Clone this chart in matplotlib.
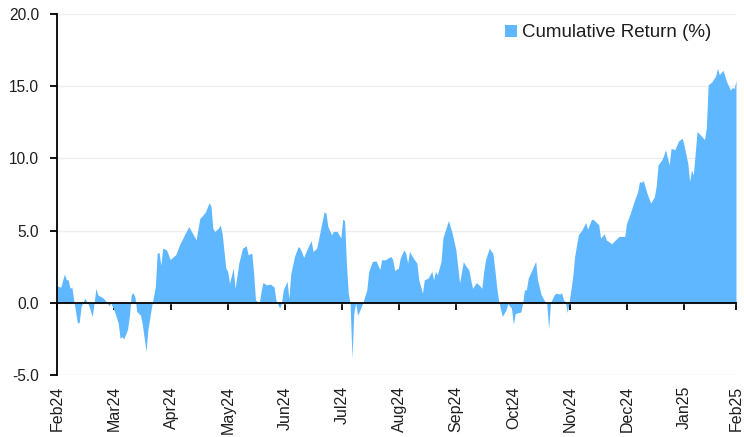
import matplotlib
matplotlib.use("Agg")
import matplotlib.pyplot as plt
from matplotlib.patches import Patch

# x readings, in calendar days after 2024-02-01
day_offsets = [
    0, 2, 4, 5, 6, 7, 8, 9, 11, 12, 13, 15, 17, 19, 21, 22, 25, 27, 28, 29,
    31, 33, 34, 35, 36, 38, 39, 40, 41, 42, 43, 45, 46, 48, 49, 51, 53, 54, 55, 56,
    57, 59, 61, 64, 66, 69, 71, 73, 75, 77, 78, 80, 82, 83, 84, 85, 87, 88, 89, 91,
    92, 93, 95, 96, 98, 100, 102, 103, 105, 106, 107, 108, 109, 110, 111, 113, 115, 117, 118, 120,
    121, 122, 124, 125, 126, 128, 130, 131, 133, 135, 137, 138, 140, 142, 144, 145, 146, 148, 149, 151,
    153, 154, 155, 156, 157, 158, 159, 160, 161, 162, 163, 165, 167, 168, 170, 172, 174, 175, 177, 179,
    180, 181, 182, 184, 185, 187, 188, 189, 190, 192, 194, 195, 197, 198, 200, 202, 203, 204, 205, 207,
    208, 211, 213, 215, 216, 217, 219, 220, 222, 223, 224, 226, 228, 229, 230, 231, 233, 235, 236, 237,
    238, 240, 242, 243, 245, 246, 247, 250, 251, 252, 253, 254, 258, 259, 261, 263, 264, 265, 266, 268,
    269, 271, 272, 273, 274, 275, 276, 278, 279, 281, 283, 285, 286, 288, 289, 292, 293, 295, 296, 299,
    301, 303, 306, 307, 309, 311, 313, 314, 315, 316, 318, 320, 322, 323, 324, 326, 327, 328, 330, 331,
    333, 335, 337, 338, 340, 341, 342, 343, 345, 347, 349, 350, 351, 353, 355, 356, 357, 359, 361, 363,
    364, 365, 366,
]
cumulative_return = [
    1.18, 1.08, 2.0, 1.6, 1.6, 1.0, 1.1, 0.2, -1.4, -1.35, -0.25, 0.32, -0.14, -0.95, 1.0, 0.55, 0.32, 0.02, -0.2, 0.0,
    -0.6, -1.4, -2.45, -2.35, -2.5, -1.85, -0.95, 0.55, 0.7, 0.4, -0.6, -0.85, -1.5, -3.37, -1.85, -0.25, 1.1, 3.44, 3.48, 2.6,
    3.78, 3.67, 3.0, 3.33, 4.0, 4.78, 5.28, 4.82, 4.36, 5.86, 5.97, 6.3, 6.94, 6.67, 5.17, 4.94, 5.17, 5.4, 4.82, 2.4,
    2.17, 1.36, 2.4, 1.0, 2.75, 3.78, 3.95, 3.33, 3.44, 2.05, 0.2, 0.1, 0.0, 0.78, 1.4, 1.24, 1.3, 1.1, 0.2, -0.37,
    0.0, 0.9, 1.5, 0.3, 2.0, 3.2, 3.9, 3.78, 3.15, 3.78, 4.31, 3.56, 3.78, 5.05, 6.3, 6.2, 5.28, 4.71, 4.94, 4.94,
    4.48, 5.79, 5.7, 2.75, 0.67, -0.07, -3.83, -0.7, 0.0, -0.85, -0.6, 0.07, 0.9, 2.17, 2.86, 2.9, 2.3, 2.98, 2.98, 3.15,
    3.2, 2.98, 2.24, 2.4, 3.1, 3.67, 3.44, 2.75, 3.56, 3.1, 2.75, 1.6, 0.67, 1.6, 1.7, 2.17, 1.6, 2.17, 1.94, 2.86,
    4.48, 5.7, 4.82, 3.67, 2.5, 1.36, 2.86, 2.63, 2.28, 1.6, 1.0, 1.4, 1.17, 1.0, 2.17, 2.98, 3.78, 3.4, 2.3, 1.1,
    0.16, -0.95, -0.5, -0.07, -0.37, -1.5, -0.74, -0.64, 0.0, 0.9, 0.9, 1.7, 2.86, 1.6, 0.55, 0.09, -0.06, -1.82, 0.0, 0.55,
    0.67, 0.6, 0.7, 0.2, 0.09, -0.67, 0.0, 1.82, 3.2, 4.7, 5.05, 5.56, 5.1, 5.75, 5.79, 5.4, 4.48, 4.78, 4.36, 4.09,
    4.36, 4.6, 4.59, 5.5, 6.2, 7.0, 7.7, 8.4, 8.33, 8.47, 7.6, 6.9, 7.35, 8.1, 9.55, 9.9, 10.2, 10.6, 9.55, 10.7,
    10.6, 11.2, 11.4, 10.9, 9.67, 8.4, 9.2, 8.85, 11.86, 11.6, 11.3, 12.1, 15.09, 15.3, 15.7, 16.24, 15.8, 16.1, 15.3, 14.74,
    14.9, 14.85, 15.4,
]
# The axis is indexed by trading day (251 sessions), ticked every 21 sessions
n_calendar_days = 366
last_trading_index = 250
tick_step = 21
month_labels = ["Feb24", "Mar24", "Apr24", "May24", "Jun24", "Jul24", "Aug24",
                "Sep24", "Oct24", "Nov24", "Dec24", "Jan25", "Feb25"]
yticks = [-5, 0, 5, 10, 15, 20]
series_name = "Cumulative Return (%)"

trading_index = [d * last_trading_index / n_calendar_days for d in day_offsets]
tick_positions = list(range(0, last_trading_index, tick_step)) + [last_trading_index]

fill_color = "#5FB7FF"
text_color = "#1e1e1e"
font = ["Liberation Sans", "DejaVu Sans"]
plt.rcParams["font.family"] = font

fig = plt.figure(figsize=(7.44, 4.37), dpi=100)
ax = fig.add_axes([57 / 744, 62 / 437, 679 / 744, 361 / 437])

ax.fill_between(trading_index, 0, cumulative_return, color=fill_color, linewidth=0, interpolate=True)

ax.set_ylim(-5, 20)
ax.set_xlim(0, last_trading_index)
ax.set_yticks(yticks)
ax.set_yticklabels([f"{v:.1f}" for v in yticks], fontsize=11.2, color=text_color)
ax.yaxis.grid(True, color="#eeeeee", linewidth=1)
ax.set_axisbelow(True)

for s in ["top", "right"]:
    ax.spines[s].set_visible(False)
ax.spines["left"].set_color("black")
ax.spines["left"].set_linewidth(1.3)
ax.spines["bottom"].set_position(("data", 0))
ax.spines["bottom"].set_color("black")
ax.spines["bottom"].set_linewidth(1.3)
ax.set_xticks(tick_positions)
ax.tick_params(axis="x", labelbottom=False, length=5, width=1.3, color="black", direction="out")
ax.tick_params(axis="y", length=5, width=1.3, color="black", direction="out", pad=8)

sec = ax.secondary_xaxis("bottom")
sec.set_xticks(tick_positions)
sec.set_xticklabels(month_labels, rotation=90, fontsize=11.5, color=text_color)
sec.tick_params(length=0, pad=8)
sec.spines["bottom"].set_visible(False)

handle = Patch(facecolor=fill_color, edgecolor="none")
leg = ax.legend([handle], [series_name], loc="upper right", frameon=False,
                fontsize=13.5, handlelength=0.6, handleheight=0.6, handletextpad=0.3,
                bbox_to_anchor=(0.979, 1.0), borderaxespad=0.15)
for t in leg.get_texts():
    t.set_color(text_color)

fig.savefig("out.png", dpi=100)
